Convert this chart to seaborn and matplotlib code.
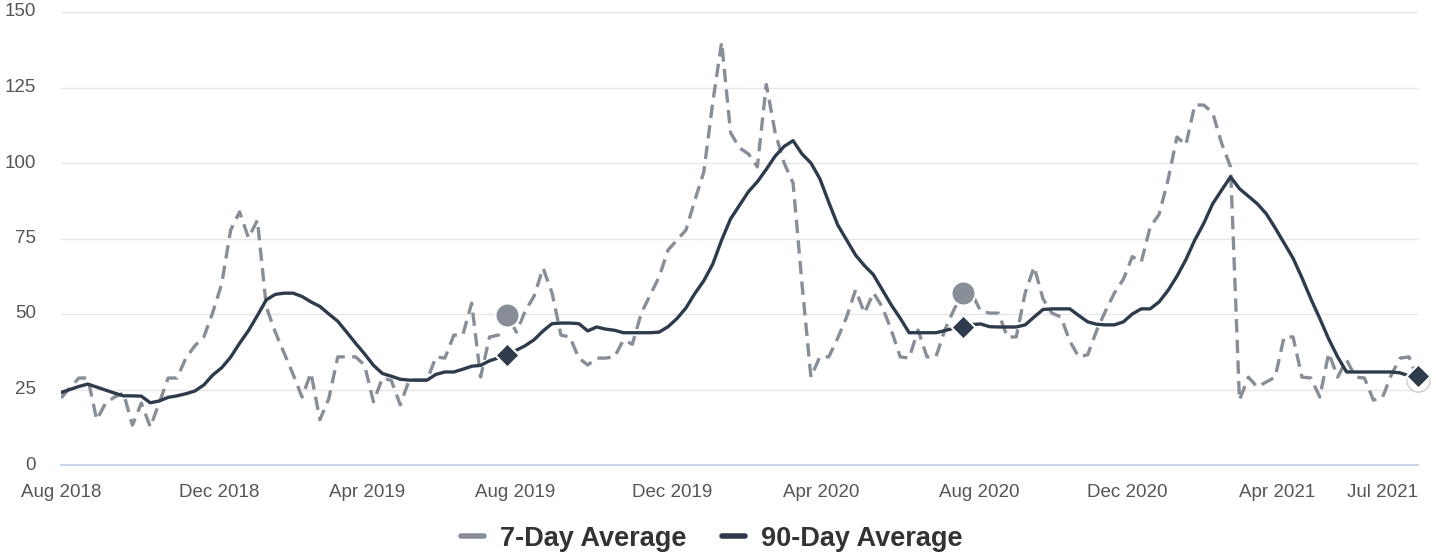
import pandas as pd
import seaborn as sns
import matplotlib.pyplot as plt

# weekly points, Aug 2018 -> Jul 2021
weeks = list(range(153))

avg_7day = [
    22.2, 25.5, 28.8, 28.8, 15.0, 20.5, 22.5, 23.8, 13.2, 20.5,
    12.6, 20.5, 28.8, 28.8, 35.5, 39.5, 42.4, 50.5, 60.0, 77.8,
    83.8, 75.2, 81.1, 52.3, 44.0, 37.0, 30.0, 22.5, 30.5, 15.0,
    22.0, 35.8, 35.8, 35.8, 33.1, 20.9, 28.8, 28.0, 19.9, 28.1,
    28.1, 28.1, 35.8, 35.4, 43.0, 43.0, 53.6, 29.1, 42.4, 43.0,
    49.7, 44.0, 51.0, 56.0, 65.2, 57.0, 43.0, 42.4, 35.4, 33.1,
    35.4, 35.4, 35.8, 41.4, 40.0, 50.3, 56.3, 62.3, 71.2, 74.5,
    77.8, 87.7, 97.0, 120.0, 140.0, 110.0, 105.0, 103.0, 98.7, 126.0,
    110.0, 100.0, 93.4, 60.0, 29.1, 35.8, 35.8, 42.0, 49.0, 58.0,
    50.3, 57.0, 52.3, 44.7, 35.8, 35.4, 44.7, 35.8, 35.8, 44.7,
    51.3, 57.0, 57.0, 51.0, 50.3, 50.3, 42.4, 42.4, 57.0, 65.6,
    55.0, 50.3, 49.0, 41.0, 35.8, 36.5, 44.5, 51.0, 57.0, 61.5,
    69.0, 67.2, 78.8, 83.0, 94.4, 108.6, 106.0, 119.2, 119.2, 116.6,
    106.6, 98.7, 21.5, 29.1, 25.8, 27.5, 29.1, 42.4, 42.4, 29.1,
    28.8, 22.5, 37.1, 29.1, 34.8, 29.1, 28.8, 21.5, 22.2, 29.8,
    35.4, 35.8, 28.1,
]

avg_90day = [
    24.0, 25.0, 26.0, 26.8, 25.8, 24.8, 23.8, 22.9, 22.9, 22.8,
    20.6, 21.2, 22.4, 22.9, 23.6, 24.5, 26.5, 29.8, 32.2, 35.7,
    40.3, 44.5, 49.5, 54.7, 56.5, 56.9, 56.9, 55.8, 54.0, 52.5,
    50.0, 47.6, 44.0, 40.3, 36.8, 33.0, 30.3, 29.4, 28.4, 28.1,
    28.1, 28.1, 30.0, 30.8, 30.8, 31.7, 32.7, 33.0, 34.5, 35.5,
    36.4, 38.0, 39.5, 41.5, 44.4, 46.8, 47.0, 47.0, 46.8, 44.4,
    45.7, 45.0, 44.6, 43.8, 43.8, 43.8, 43.8, 44.0, 45.8, 48.5,
    52.0, 56.8, 61.0, 66.5, 74.5, 81.5, 86.0, 90.5, 93.8, 97.9,
    102.3, 105.5, 107.4, 103.0, 100.0, 94.8, 87.0, 79.5, 74.5, 69.5,
    66.0, 63.0, 58.0, 53.0, 48.6, 43.8, 43.8, 43.8, 43.8, 44.5,
    45.3, 45.7, 46.5, 46.7, 45.8, 45.7, 45.7, 45.7, 46.4, 49.0,
    51.5, 51.7, 51.7, 51.7, 49.5, 47.4, 46.6, 46.4, 46.4, 47.4,
    50.0, 51.7, 51.7, 54.0, 57.8, 62.5, 68.0, 74.5, 80.0, 86.5,
    91.0, 95.4, 91.5, 89.0, 86.5, 83.2, 78.5, 73.5, 68.5, 62.0,
    55.0, 48.5, 41.7, 35.8, 30.8, 30.8, 30.8, 30.8, 30.8, 30.8,
    30.5, 29.5, 29.5,
]

# highlighted points (same week one and two years back) and the latest week
marked_7day = [50, 101]
latest_7day = [152]
marked_90day = [50, 101, 152]

tick_pos = [0, 17.7, 34.3, 50.9, 68.5, 85.1, 102.8, 119.4, 136.2, 152]
tick_labels = ['Aug 2018', 'Dec 2018', 'Apr 2019', 'Aug 2019', 'Dec 2019',
               'Apr 2020', 'Aug 2020', 'Dec 2020', 'Apr 2021', 'Jul 2021']

GRAY = '#878e97'
DARK = '#2e3b4c'
AXIS = '#ccd6eb'

sns.set_theme(style='white')
plt.rcParams['font.family'] = ['Liberation Sans', 'DejaVu Sans']

df = pd.DataFrame({'week': weeks, '7-Day Average': avg_7day, '90-Day Average': avg_90day})

fig = plt.figure(figsize=(14.36, 5.57), dpi=100)
ax = fig.add_axes([61 / 1436, 1 - 465 / 557, 1357 / 1436, 453 / 557])

sns.lineplot(data=df, x='week', y='7-Day Average', ax=ax, color=GRAY, linewidth=2.4,
             label='7-Day Average', zorder=3)
ax.lines[-1].set_dashes([4, 2.2])
ax.lines[-1].set_dash_capstyle('butt')
sns.lineplot(data=df, x='week', y='90-Day Average', ax=ax, color=DARK, linewidth=2.4,
             label='90-Day Average', zorder=4)

m7 = df.iloc[marked_7day]
l7 = df.iloc[latest_7day]
m90 = df.iloc[marked_90day]
sns.scatterplot(data=m7, x='week', y='7-Day Average', ax=ax, color=GRAY, s=300,
                edgecolor='white', linewidth=1.5, marker='o', zorder=5, legend=False)
sns.scatterplot(data=l7, x='week', y='7-Day Average', ax=ax, color='white', s=280,
                edgecolor='#c9ccd1', linewidth=1, marker='o', zorder=5, legend=False,
                clip_on=False)
sns.scatterplot(data=m90, x='week', y='90-Day Average', ax=ax, color=DARK, s=150,
                edgecolor='white', linewidth=1.5, marker='D', zorder=6, legend=False,
                clip_on=False)

ax.set_xlim(0, 152)
ax.set_ylim(0, 150)
ax.set_yticks([0, 25, 50, 75, 100, 125, 150])
ax.set_xticks(tick_pos)
ax.set_xticklabels(tick_labels)
ax.set_xlabel('')
ax.set_ylabel('')

ax.grid(axis='y', color='#e6e6e6', linewidth=1)
ax.set_axisbelow(True)
for side in ['top', 'right', 'left']:
    ax.spines[side].set_visible(False)
ax.spines['bottom'].set_color(AXIS)
ax.spines['bottom'].set_linewidth(1.5)
ax.tick_params(axis='x', length=10, width=1, color=AXIS, pad=4,
               labelsize=13.5, labelcolor='#555555', direction='out')
ax.tick_params(axis='y', length=0, pad=18, labelsize=13.5, labelcolor='#555555')
for lab in ax.get_yticklabels():
    lab.set_verticalalignment('center')
# last label kept inside the chart, like the original
ax.get_xticklabels()[-1].set_horizontalalignment('right')

ax.get_legend().remove()
handles = [plt.Line2D([], [], color=GRAY, linewidth=4),
           plt.Line2D([], [], color=DARK, linewidth=4)]
leg = fig.legend(handles, ['7-Day Average', '90-Day Average'], loc='center',
                 bbox_to_anchor=(0.4955, 0.033), ncol=2, frameon=False,
                 handlelength=0.85, handletextpad=0.6, columnspacing=1.3,
                 prop={'weight': 'bold', 'size': 19.5})
for t in leg.get_texts():
    t.set_color('#333333')

fig.savefig('out.png', dpi=100)
